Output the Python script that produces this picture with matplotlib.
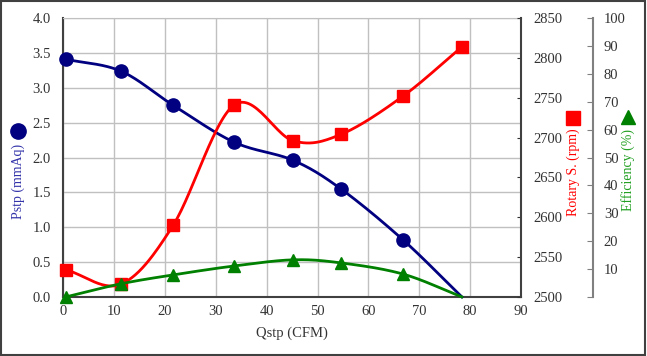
import numpy as np
import matplotlib.pyplot as plt
from matplotlib.patches import Rectangle
from matplotlib.lines import Line2D

# values
qstp = [0.5, 11.3, 21.6, 33.6, 45.2, 54.6, 66.8, 78.4]
pstp = [3.41, 3.24, 2.75, 2.22, 1.96, 1.55, 0.82, 0.0]
rotary = [2534, 2516, 2590, 2741, 2696, 2704, 2752, 2814]
efficiency = [0.0, 4.7, 7.9, 11.1, 13.3, 12.2, 8.2, 0.0]

x_ticks = list(range(0, 100, 10))
p_ticks = [0.0, 0.5, 1.0, 1.5, 2.0, 2.5, 3.0, 3.5, 4.0]
r_ticks = list(range(2500, 2900, 50))
e_ticks = list(range(0, 110, 10))

NAVY = "#000080"
RED = "#FF0000"
GREEN = "#008000"
TXT = "#333333"
FS = 10.5


def smooth(xs, ys, n=30):
    # Catmull-Rom style smoothing, like a spreadsheet "smoothed line"
    xs = np.asarray(xs, float)
    ys = np.asarray(ys, float)
    px = np.concatenate([[2 * xs[0] - xs[1]], xs, [2 * xs[-1] - xs[-2]]])
    py = np.concatenate([[2 * ys[0] - ys[1]], ys, [2 * ys[-1] - ys[-2]]])
    out_x, out_y = [], []
    t = np.linspace(0, 1, n)
    for i in range(1, len(px) - 2):
        for arr, out in ((px, out_x), (py, out_y)):
            p0, p1, p2, p3 = arr[i - 1], arr[i], arr[i + 1], arr[i + 2]
            seg = 0.5 * ((2 * p1) + (-p0 + p2) * t
                         + (2 * p0 - 5 * p1 + 4 * p2 - p3) * t ** 2
                         + (-p0 + 3 * p1 - 3 * p2 + p3) * t ** 3)
            out.extend(seg)
    return np.array(out_x), np.array(out_y)


plt.rcParams["font.family"] = ["Liberation Serif", "DejaVu Serif"]
plt.rcParams["font.size"] = FS

fig = plt.figure(figsize=(6.47, 3.56), dpi=100)
ax = fig.add_axes([0.098, 0.166, 0.707, 0.783])

ax.set_xlim(0, 90)
ax.set_ylim(0, 4.0)
ax.set_xticks(x_ticks)
ax.set_yticks(p_ticks)
ax.set_yticklabels([f"{v:.1f}" for v in p_ticks])
ax.grid(True, color="#C0C0C0", lw=1.0)
ax.set_axisbelow(True)
for s in ("left", "bottom"):
    ax.spines[s].set_color("#404040")
    ax.spines[s].set_linewidth(1.5)
ax.spines["top"].set_color("#C0C0C0")
ax.spines["right"].set_visible(False)
ax.tick_params(axis="y", length=0, colors=TXT, labelsize=FS, pad=9)
ax.tick_params(axis="x", length=0, colors=TXT, labelsize=FS, pad=6)

# rotary speed axis
ax2 = ax.twinx()
ax2.set_ylim(2500, 2850)
ax2.set_yticks(r_ticks)
ax2.spines["right"].set_color("#404040")
ax2.spines["right"].set_linewidth(1.5)
for s in ("left", "top", "bottom"):
    ax2.spines[s].set_visible(False)
ax2.tick_params(direction="in", length=3, colors=TXT, labelsize=FS, pad=9)

# efficiency axis
ax3 = ax.twinx()
ax3.set_ylim(0, 100)
ax3.set_yticks(e_ticks)
ax3.set_yticklabels([""] + [str(v) for v in e_ticks[1:]])
ax3.spines["right"].set_position(("axes", 1.157))
ax3.spines["right"].set_color("#808080")
ax3.spines["right"].set_linewidth(1.5)
for s in ("left", "top", "bottom"):
    ax3.spines[s].set_visible(False)
ax3.tick_params(direction="in", length=4, color="#808080", labelcolor=TXT,
                labelsize=FS, pad=8)

sx, sy = smooth(qstp, pstp)
ax.plot(sx, sy, color=NAVY, lw=2, clip_on=False, zorder=3)
ax.plot(qstp[:-1], pstp[:-1], "o", color=NAVY, ms=9.5, zorder=4, clip_on=False)

sx, sy = smooth(qstp, rotary)
ax2.plot(sx, sy, color=RED, lw=2, clip_on=False, zorder=3)
ax2.plot(qstp, rotary, "s", color=RED, ms=9, zorder=4, clip_on=False)

sx, sy = smooth(qstp, efficiency)
ax3.plot(sx, sy, color=GREEN, lw=2, clip_on=False, zorder=3)
ax3.plot(qstp[:-1], efficiency[:-1], "^", color=GREEN, ms=9, zorder=4, clip_on=False)

ax.set_xlabel("Qstp (CFM)", color=TXT, fontsize=FS, labelpad=6)

# axis titles with their marker glyphs
LFS = 10
fig.text(18 / 647, 1 - 181 / 356, "Pstp (mmAq)", rotation=90, color="#3333AA",
         fontsize=LFS, ha="center", va="center")
fig.add_artist(Line2D([18 / 647], [1 - 131 / 356], marker="o", color=NAVY,
                      ms=11, transform=fig.transFigure))
fig.text(573 / 647, 1 - 172 / 356, "Rotary S. (rpm)", rotation=90, color=RED,
         fontsize=LFS, ha="center", va="center")
fig.add_artist(Line2D([573 / 647], [1 - 118 / 356], marker="s", color=RED,
                      ms=10, transform=fig.transFigure))
fig.text(628 / 647, 1 - 170 / 356, "Efficiency (%)", rotation=90, color="#22A022",
         fontsize=LFS, ha="center", va="center")
fig.add_artist(Line2D([628 / 647], [1 - 117 / 356], marker="^", color=GREEN,
                      ms=10, transform=fig.transFigure))

fig.add_artist(Rectangle((0.002, 0.003), 0.995, 0.993, transform=fig.transFigure,
                         fill=False, ec="#404040", lw=1.5))

fig.savefig("out.png", dpi=100)
